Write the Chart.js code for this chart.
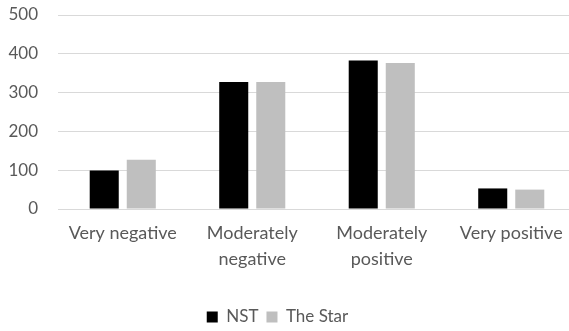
<!DOCTYPE html>
<html>
<head>
<meta charset="utf-8">
<script src="https://cdn.jsdelivr.net/npm/chart.js@4/dist/chart.umd.min.js"></script>
<style>
  html, body { margin: 0; padding: 0; background: #ffffff; overflow: hidden; }
  #wrap { width: 569px; height: 331px; overflow: hidden; position: relative; }
  canvas { display: block; }
</style>
</head>
<body>
<div id="wrap"><canvas id="chart" width="576" height="331"></canvas></div>
<script>
// Sentiment categories and counts per newspaper
const categories = ['Very negative', ['Moderately', 'negative'], ['Moderately', 'positive'], 'Very positive'];
const nstValues = [99, 327, 383, 53];
const starValues = [127, 327, 376, 50];
const yTicks = [0, 100, 200, 300, 400, 500];

const textColor = '#595959';
const fontFamily = 'Lato, "Open Sans", sans-serif';

// Move the legend a little left of the canvas centre
const legendShift = {
  id: 'legendShift',
  afterLayout(chart) {
    const lg = chart.legend;
    if (lg) { lg.left -= 10.5; lg.right -= 10.5; }
  }
};

new Chart(document.getElementById('chart'), {
  type: 'bar',
  data: {
    labels: categories,
    datasets: [
      { label: 'NST', data: nstValues, backgroundColor: '#000000', borderWidth: 0,
        categoryPercentage: 0.572, barPercentage: 0.784 },
      { label: 'The Star', data: starValues, backgroundColor: '#bfbfbf', borderWidth: 0,
        categoryPercentage: 0.572, barPercentage: 0.784 }
    ]
  },
  options: {
    responsive: false,
    animation: false,
    layout: { padding: { top: 0, left: 0, right: 0, bottom: -4.5 } },
    scales: {
      x: {
        grid: { display: false, drawTicks: false },
        border: { display: false },
        ticks: {
          color: textColor,
          padding: 11.5,
          maxRotation: 0,
          autoSkip: false,
          font: { family: fontFamily, size: 18, lineHeight: 1.44 }
        },
        afterFit(scale) { scale.height = 91.5; }
      },
      y: {
        min: 0,
        max: 500,
        afterBuildTicks(scale) { scale.ticks = yTicks.map(v => ({ value: v })); },
        grid: { color: '#d9d9d9', lineWidth: 1, drawTicks: false },
        border: { display: false },
        ticks: {
          color: textColor,
          padding: 20,
          font: { family: fontFamily, size: 17 }
        },
        afterFit(scale) {
          scale.width = 58;
          scale.paddingTop = 15;
          scale.paddingBottom = 0;
        }
      }
    },
    plugins: {
      legend: {
        position: 'bottom',
        labels: {
          color: textColor,
          boxWidth: 11,
          boxHeight: 11,
          padding: 8,
          font: { family: fontFamily, size: 17 }
        }
      },
      tooltip: { enabled: false }
    }
  },
  plugins: [legendShift]
});
</script>
</body>
</html>
